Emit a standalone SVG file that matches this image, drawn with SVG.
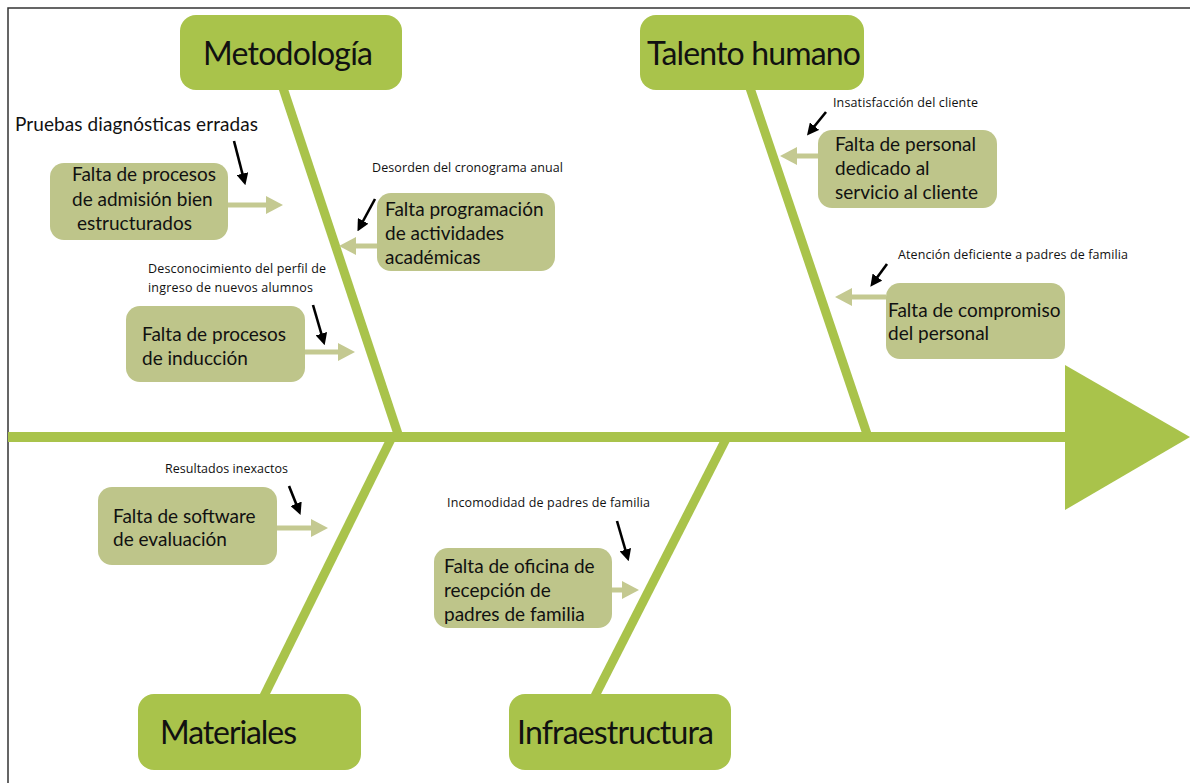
<svg xmlns="http://www.w3.org/2000/svg" width="1190" height="783" viewBox="0 0 1190 783">
  <style>
    .frame { fill: none; stroke: #333; stroke-width: 1.5; }
    .bone { stroke: #a9c34b; stroke-width: 9; fill: none; }
    .cat rect { fill: #a9c34b; }
    .cat text { font-family: Lato, "Open Sans", sans-serif; font-size: 32px; fill: #111; }
    .cause rect { fill: #bec58a; }
    .cause text { font-family: Lato, "Open Sans", sans-serif; font-size: 19px; fill: #111; }
    .sub { stroke: #c4c991; stroke-width: 5; fill: none; }
    .subhead { fill: #c4c991; }
    .note { font-family: "Open Sans", Lato, sans-serif; font-size: 12.5px; fill: #111; }
    .note-big { font-family: Lato, "Open Sans", sans-serif; font-size: 19px; fill: #111; }
    .pointer { stroke: #000; stroke-width: 2.6; fill: none; marker-end: url(#blackHead); }
  </style>
  <defs>
    <marker id="blackHead" viewBox="0 0 10 10" refX="2" refY="5" markerWidth="4.6" markerHeight="4.6" orient="auto" markerUnits="strokeWidth">
      <path d="M0,0 L10,5 L0,10 z" fill="#000"/>
    </marker>
  </defs>

  <rect width="1190" height="783" fill="#fff"/>
  <path class="frame" d="M8,783 L8,8 L1190,8"/>

  <!-- spine and bones -->
  <g id="connectors">
    <line class="bone" x1="8" y1="437" x2="1070" y2="437" style="stroke-width:10"/>
    <polygon points="1065,365 1190,437 1065,510" fill="#a9c34b"/>
    <line class="bone" x1="283" y1="88" x2="399" y2="437"/>
    <line class="bone" x1="750" y1="88" x2="868" y2="437"/>
    <line class="bone" x1="264" y1="696" x2="392" y2="437"/>
    <line class="bone" x1="595" y1="696" x2="727" y2="437"/>

    <!-- cause arrows -->
    <line class="sub" x1="228" y1="205" x2="268" y2="205"/>
    <polygon class="subhead" points="266,196 283,205 266,214"/>
    <line class="sub" x1="377" y1="246" x2="354" y2="246"/>
    <polygon class="subhead" points="356,237 339,246 356,255"/>
    <line class="sub" x1="305" y1="352" x2="340" y2="352"/>
    <polygon class="subhead" points="338,343 355,352 338,361"/>
    <line class="sub" x1="818" y1="156" x2="795" y2="156"/>
    <polygon class="subhead" points="797,147 780,156 797,165"/>
    <line class="sub" x1="886" y1="297" x2="850" y2="297"/>
    <polygon class="subhead" points="852,288 835,297 852,306"/>
    <line class="sub" x1="277" y1="528" x2="313" y2="528"/>
    <polygon class="subhead" points="311,519 328,528 311,537"/>
    <line class="sub" x1="612" y1="590" x2="624" y2="590"/>
    <polygon class="subhead" points="622,581 639,590 622,599"/>

    <!-- black pointers -->
    <line class="pointer" x1="234" y1="141" x2="243" y2="176"/>
    <line class="pointer" x1="375" y1="199" x2="362" y2="223"/>
    <line class="pointer" x1="313" y1="305" x2="322" y2="336"/>
    <line class="pointer" x1="826" y1="112" x2="813" y2="128"/>
    <line class="pointer" x1="887" y1="264" x2="876" y2="279"/>
    <line class="pointer" x1="289" y1="486" x2="297" y2="506"/>
    <line class="pointer" x1="617" y1="521" x2="626" y2="552"/>
  </g>

  <!-- categories -->
  <g id="cat-metodologia" class="cat">
    <rect x="180" y="15" width="222" height="75" rx="16"/>
    <text x="203" y="65" textLength="170">Metodología</text>
  </g>
  <g id="cat-talento" class="cat">
    <rect x="640" y="15" width="224" height="75" rx="16"/>
    <text x="647" y="65" textLength="214">Talento humano</text>
  </g>
  <g id="cat-materiales" class="cat">
    <rect x="138" y="694" width="223" height="76" rx="16"/>
    <text x="160" y="744" textLength="137">Materiales</text>
  </g>
  <g id="cat-infraestructura" class="cat">
    <rect x="509" y="694" width="222" height="76" rx="16"/>
    <text x="517" y="744" textLength="197">Infraestructura</text>
  </g>

  <!-- causes -->
  <g id="cause-admision" class="cause">
    <rect x="50" y="163" width="178" height="77" rx="14"/>
    <text x="72" y="181">Falta de procesos</text>
    <text x="72" y="206">de admisión bien</text>
    <text x="77" y="230">estructurados</text>
  </g>
  <g id="cause-programacion" class="cause">
    <rect x="377" y="193" width="178" height="78" rx="14"/>
    <text x="385" y="216">Falta programación</text>
    <text x="385" y="240">de actividades</text>
    <text x="385" y="264">académicas</text>
  </g>
  <g id="cause-induccion" class="cause">
    <rect x="126" y="306" width="179" height="76" rx="14"/>
    <text x="142" y="341">Falta de procesos</text>
    <text x="142" y="365">de inducción</text>
  </g>
  <g id="cause-personal" class="cause">
    <rect x="818" y="130" width="179" height="78" rx="14"/>
    <text x="835" y="151">Falta de personal</text>
    <text x="835" y="175">dedicado al</text>
    <text x="835" y="199">servicio al cliente</text>
  </g>
  <g id="cause-compromiso" class="cause">
    <rect x="886" y="283" width="179" height="76" rx="14"/>
    <text x="888" y="317">Falta de compromiso</text>
    <text x="888" y="340">del personal</text>
  </g>
  <g id="cause-software" class="cause">
    <rect x="98" y="487" width="179" height="78" rx="14"/>
    <text x="113" y="523">Falta de software</text>
    <text x="113" y="546">de evaluación</text>
  </g>
  <g id="cause-oficina" class="cause">
    <rect x="434" y="548" width="178" height="80" rx="14"/>
    <text x="444" y="573">Falta de oficina de</text>
    <text x="444" y="597">recepción de</text>
    <text x="444" y="621">padres de familia</text>
  </g>

  <!-- effect notes -->
  <g id="notes">
    <text class="note-big" x="15" y="131" textLength="243">Pruebas diagnósticas erradas</text>
    <text class="note" x="372" y="172" textLength="191">Desorden del cronograma anual</text>
    <text class="note" x="148" y="273" textLength="178">Desconocimiento del perfil de</text>
    <text class="note" x="148" y="292" textLength="165">ingreso de nuevos alumnos</text>
    <text class="note" x="833" y="107" textLength="145">Insatisfacción del cliente</text>
    <text class="note" x="898" y="259" textLength="230">Atención deficiente a padres de familia</text>
    <text class="note" x="165" y="473" textLength="123">Resultados inexactos</text>
    <text class="note" x="447" y="507" textLength="203">Incomodidad de padres de familia</text>
  </g>
</svg>
